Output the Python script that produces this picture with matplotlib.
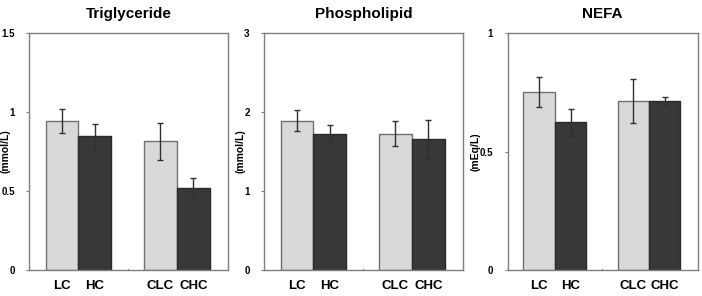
import matplotlib
matplotlib.use("Agg")
import matplotlib.pyplot as plt

plt.rcParams['font.family'] = ['Liberation Sans', 'DejaVu Sans']

groups = ["LC", "HC", "CLC", "CHC"]
positions = [0, 1, 3, 4]

titles = ["Triglyceride", "Phospholipid", "NEFA"]
units = ["(mmol/L)", "(mmol/L)", "(mEq/L)"]

tg_mean = [0.945, 0.845, 0.815, 0.518]
tg_err = [0.076, 0.080, 0.117, 0.066]

pl_mean = [1.89, 1.725, 1.725, 1.655]
pl_err = [0.13, 0.105, 0.155, 0.25]

nefa_mean = [0.752, 0.623, 0.713, 0.713]
nefa_err = [0.064, 0.056, 0.093, 0.017]

ylims = [1.5, 3, 1]
yticks = [[0, 0.5, 1, 1.5], [0, 1, 2, 3], [0, 0.5, 1]]
yticklabels = [["0", "0.5", "1", "1.5"], ["0", "1", "2", "3"], ["0", "0.5", "1"]]

means = [tg_mean, pl_mean, nefa_mean]
errs = [tg_err, pl_err, nefa_err]

W, H = 702, 296
fig = plt.figure(figsize=(W / 100, H / 100), dpi=100)

boxes = [(29.3, 198.4), (264.3, 198.4), (507.7, 190.0)]
label_x_px = [6.0, 240.5, 475.5]
top_px, bot_px = 33.0, 270.0

light = "#d9d9d9"
dark = "#383838"
spine_c = "#7f7f7f"
colors = [light, dark, light, dark]
edges = ["#707070", "#2a2a2a", "#707070", "#2a2a2a"]

for i in range(3):
    left, width = boxes[i]
    ax = fig.add_axes([left / W, (H - bot_px) / H, width / W, (bot_px - top_px) / H])
    ax.bar(positions, means[i], width=1.0, color=colors, edgecolor=edges, linewidth=1.0, zorder=2)
    ax.errorbar(positions, means[i], yerr=errs[i], fmt="none", ecolor="#303030",
                elinewidth=1.0, capsize=2.3, capthick=1.0, zorder=3)
    ax.set_xlim(-1.0, 5.05)
    ax.set_ylim(0, ylims[i])
    ax.set_yticks(yticks[i])
    ax.set_yticklabels(yticklabels[i], fontsize=7, fontweight="bold")
    ax.tick_params(axis="y", direction="out", length=2.5, width=0.8, color=spine_c, pad=8)
    ax.set_xticks(positions)
    ax.set_xticklabels(groups, fontsize=9.5, fontweight="bold")
    ax.tick_params(axis="x", length=0, pad=7)
    # small middle tick
    ax.plot([2, 2], [0, ylims[i] * 0.006], color=spine_c, lw=0.8, clip_on=False, zorder=1)
    for s in ax.spines.values():
        s.set_color(spine_c)
        s.set_linewidth(1.0)
    ax.set_title(titles[i], fontsize=11, fontweight="bold", pad=11)
    ax.set_ylabel(units[i], fontsize=7.5, fontweight="bold")
    ax.yaxis.set_label_coords((label_x_px[i] - left) / width, 0.5)
    ax.yaxis.label.set_rotation_mode("default")
    ax.yaxis.label.set_va("center")
    ax.yaxis.label.set_ha("center")

fig.savefig("out.png", dpi=100)
